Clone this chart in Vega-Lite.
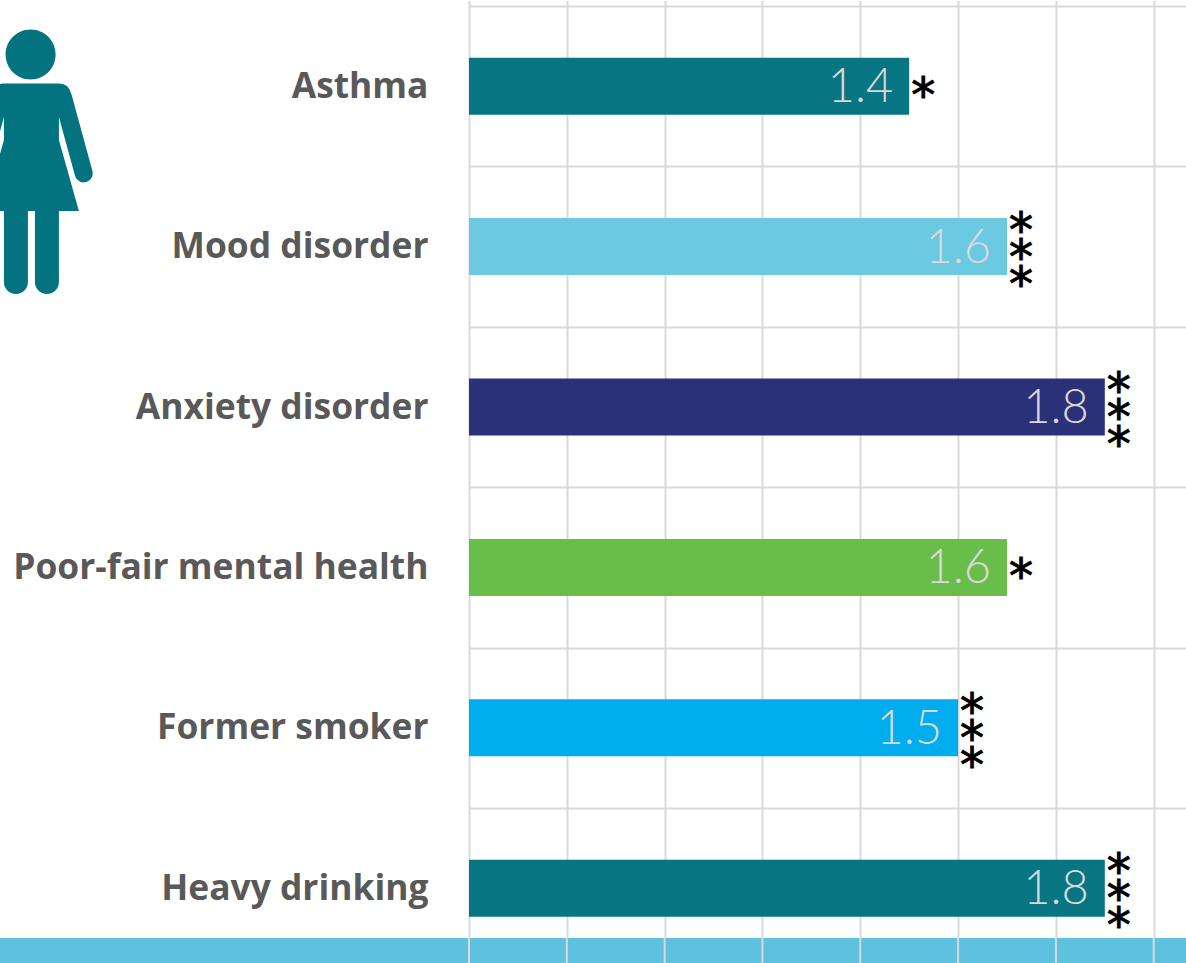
{
  "$schema": "https://vega.github.io/schema/vega-lite/v6.json",
  "width": 717,
  "height": 957,
  "autosize": "none",
  "padding": {"left": 469, "top": 6, "right": 0, "bottom": 0},
  "background": "white",
  "view": {"stroke": null},
  "datasets": {
    "ratios": [
      {"condition": "Asthma", "ratio": 1.4, "stars": "*", "starCount": 1},
      {"condition": "Mood disorder", "ratio": 1.6, "stars": "*\n*\n*", "starCount": 3},
      {"condition": "Anxiety disorder", "ratio": 1.8, "stars": "*\n*\n*", "starCount": 3},
      {"condition": "Poor-fair mental health", "ratio": 1.6, "stars": "*", "starCount": 1},
      {"condition": "Former smoker", "ratio": 1.5, "stars": "*\n*\n*", "starCount": 3},
      {"condition": "Heavy drinking", "ratio": 1.8, "stars": "*\n*\n*", "starCount": 3}
    ],
    "band": [{"from": -0.46, "to": 1.966, "top": 5.81, "bottom": 5.97}],
    "ticks": [
      {"tick": 0.5, "top": 5.81, "bottom": 5.97},
      {"tick": 0.7, "top": 5.81, "bottom": 5.97},
      {"tick": 0.9, "top": 5.81, "bottom": 5.97},
      {"tick": 1.1, "top": 5.81, "bottom": 5.97},
      {"tick": 1.3, "top": 5.81, "bottom": 5.97},
      {"tick": 1.5, "top": 5.81, "bottom": 5.97},
      {"tick": 1.7, "top": 5.81, "bottom": 5.97},
      {"tick": 1.9, "top": 5.81, "bottom": 5.97}
    ],
    "figure": [{"across": -0.3947, "down": 0.9726}]
  },
  "resolve": {"scale": {"y": "independent"}},
  "layer": [
    {
      "data": {"name": "ratios"},
      "encoding": {
        "x": {
          "field": "ratio",
          "type": "quantitative",
          "scale": {"domain": [0.5, 1.966], "nice": false, "zero": false},
          "axis": {
            "values": [0.5, 0.7, 0.9, 1.1, 1.3, 1.5, 1.7, 1.9],
            "grid": true,
            "gridColor": "#D9D9D9",
            "gridWidth": 2,
            "labels": false,
            "ticks": false,
            "domain": false,
            "title": null
          }
        },
        "y": {
          "field": "condition",
          "type": "nominal",
          "sort": null,
          "scale": {"range": [0, 962.4], "paddingInner": 0, "paddingOuter": 0},
          "axis": {
            "grid": true,
            "gridColor": "#D9D9D9",
            "gridWidth": 2,
            "tickBand": "extent",
            "ticks": false,
            "domain": false,
            "title": null,
            "labelFont": "Open Sans",
            "labelFontWeight": "bold",
            "labelFontSize": 35.4,
            "labelColor": "#595959",
            "labelPadding": 41,
            "labelLimit": 460
          }
        }
      },
      "layer": [
        {
          "mark": {"type": "bar", "size": 57},
          "encoding": {
            "x2": {"datum": 0.5},
            "color": {
              "field": "condition",
              "type": "nominal",
              "legend": null,
              "scale": {
                "domain": ["Asthma", "Mood disorder", "Anxiety disorder", "Poor-fair mental health", "Former smoker", "Heavy drinking"],
                "range": ["#077582", "#6BCAE2", "#2A3178", "#69BE4B", "#00AEEF", "#077582"]
              }
            }
          }
        },
        {
          "mark": {"type": "text", "align": "right", "baseline": "middle", "xOffset": -16, "yOffset": 2, "font": "Lato", "fontWeight": 300, "fontSize": 47, "color": "#D9D9D9"},
          "encoding": {"text": {"field": "ratio", "type": "quantitative", "format": ".1f"}}
        },
        {
          "transform": [{"filter": "datum.starCount === 1"}],
          "mark": {"type": "text", "align": "center", "baseline": "middle", "xOffset": 14, "yOffset": 12, "font": "DejaVu Sans", "fontSize": 48, "color": "#000000", "stroke": "#000000", "strokeWidth": 1},
          "encoding": {"text": {"field": "stars", "type": "nominal"}}
        },
        {
          "transform": [{"filter": "datum.starCount === 3"}],
          "mark": {"type": "text", "align": "center", "baseline": "middle", "xOffset": 14, "yOffset": -14, "font": "DejaVu Sans", "fontSize": 48, "lineHeight": 27, "lineBreak": "\n", "color": "#000000", "stroke": "#000000", "strokeWidth": 1},
          "encoding": {"text": {"field": "stars", "type": "nominal"}}
        }
      ]
    },
    {
      "data": {"name": "band"},
      "mark": {"type": "rect", "color": "#5EC1DF"},
      "encoding": {
        "x": {"field": "from", "type": "quantitative"},
        "x2": {"field": "to"},
        "y": {"field": "top", "type": "quantitative", "scale": {"domain": [0, 5.966], "nice": false, "zero": false, "reverse": true}, "axis": null},
        "y2": {"field": "bottom"}
      }
    },
    {
      "data": {"name": "ticks"},
      "mark": {"type": "rule", "color": "#D9D9D9", "strokeWidth": 2},
      "encoding": {
        "x": {"field": "tick", "type": "quantitative"},
        "y": {"field": "top", "type": "quantitative", "scale": {"domain": [0, 5.966], "nice": false, "zero": false, "reverse": true}, "axis": null},
        "y2": {"field": "bottom"}
      }
    },
    {
      "data": {"name": "figure"},
      "mark": {
        "type": "point",
        "filled": true,
        "opacity": 1,
        "color": "#02737F",
        "size": 69696,
        "shape": "M0 -0.5947 L0.2121 -0.5947 Q0.2803 -0.5947 0.3030 -0.5152 L0.4621 0.0682 A0.0682 0.0682 0 0 1 0.3303 0.1038 L0.2083 -0.3409 L0.2083 -0.1667 L0.3598 0.3712 L0.2083 0.3712 L0.2083 0.9091 A0.0909 0.0909 0 0 1 0.0265 0.9091 L0.0265 0.3712 L-0.0265 0.3712 L-0.0265 0.9091 A0.0909 0.0909 0 0 1 -0.2083 0.9091 L-0.2083 0.3712 L-0.3598 0.3712 L-0.2083 -0.1667 L-0.2083 -0.3409 L-0.3303 0.1038 A0.0682 0.0682 0 0 1 -0.4621 0.0682 L-0.3030 -0.5152 Q-0.2803 -0.5947 -0.2121 -0.5947 Z M-0.1954 -0.8144 A0.1894 0.1894 0 1 1 0.1834 -0.8144 A0.1894 0.1894 0 1 1 -0.1954 -0.8144 Z"
      },
      "encoding": {
        "x": {"field": "across", "type": "quantitative"},
        "y": {"field": "down", "type": "quantitative", "scale": {"domain": [0, 5.966], "nice": false, "zero": false, "reverse": true}, "axis": null}
      }
    }
  ]
}
